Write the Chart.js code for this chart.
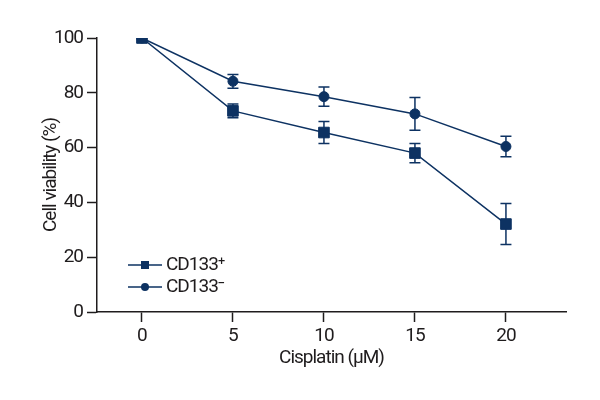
<!DOCTYPE html>
<html>
<head>
<meta charset="utf-8">
<script src="https://cdn.jsdelivr.net/npm/chart.js@4"></script>
<style>
  html, body { margin: 0; padding: 0; background: #fff; }
  #wrap { width: 600px; height: 400px; }
</style>
</head>
<body>
<div id="wrap"><canvas id="viability-chart"></canvas></div>
<script>
const doses = [0, 5, 10, 15, 20];
const cd133Pos = [100, 73.4, 65.5, 58, 32.1];
const cd133PosErr = [0, 2.5, 4, 3.5, 7.5];
const cd133Neg = [100, 84.2, 78.6, 72.3, 60.4];
const cd133NegErr = [0, 2.5, 3.5, 6, 3.7];
const xTicks = [0, 5, 10, 15, 20];
const yTicks = [0, 20, 40, 60, 80, 100];
const seriesLabels = ['CD133\u207A', 'CD133\u207B'];

const navy = '#0d3262';
const axisColor = '#1f1c1d';
const fontFamily = '"Liberation Sans Narrow", Roboto, sans-serif';
const fontSize = 19;
const squeeze = '-1px';

const toPoints = (vals) => doses.map((d, i) => ({ x: d, y: vals[i] }));

// the reference uses a condensed face, so squeeze the letters a little
const tightText = {
  id: 'tightText',
  beforeDraw(chart) { chart.ctx.letterSpacing = squeeze; },
  afterDraw(chart) { chart.ctx.letterSpacing = '0px'; }
};

// error bars, drawn behind the markers
const errorBars = {
  id: 'errorBars',
  beforeDatasetsDraw(chart) {
    const { ctx, scales: { x, y } } = chart;
    const errs = [cd133PosErr, cd133NegErr];
    ctx.save();
    ctx.strokeStyle = navy;
    ctx.lineWidth = 1.5;
    chart.data.datasets.forEach((ds, di) => {
      ds.data.forEach((p, i) => {
        const e = errs[di][i];
        if (!e) return;
        const px = x.getPixelForValue(p.x);
        const top = y.getPixelForValue(p.y + e);
        const bot = y.getPixelForValue(p.y - e);
        ctx.beginPath();
        ctx.moveTo(px, top); ctx.lineTo(px, bot);
        ctx.moveTo(px - 5.5, top); ctx.lineTo(px + 5.5, top);
        ctx.moveTo(px - 5.5, bot); ctx.lineTo(px + 5.5, bot);
        ctx.stroke();
      });
    });
    ctx.restore();
  }
};

// small legend in the lower left of the plot
const lowerLegend = {
  id: 'lowerLegend',
  afterDraw(chart) {
    const { ctx, chartArea } = chart;
    const x0 = chartArea.left + 31;
    const rows = [chartArea.bottom - 47, chartArea.bottom - 25];
    ctx.save();
    ctx.letterSpacing = squeeze;
    rows.forEach((yy, i) => {
      ctx.strokeStyle = navy;
      ctx.fillStyle = navy;
      ctx.lineWidth = 1.5;
      ctx.beginPath();
      ctx.moveTo(x0, yy); ctx.lineTo(x0 + 34, yy);
      ctx.stroke();
      ctx.beginPath();
      if (i === 0) {
        ctx.rect(x0 + 17 - 4, yy - 4, 8, 8);
      } else {
        ctx.arc(x0 + 17, yy, 4, 0, Math.PI * 2);
      }
      ctx.fill();
      ctx.fillStyle = axisColor;
      ctx.font = fontSize + 'px ' + fontFamily;
      ctx.textBaseline = 'middle';
      ctx.textAlign = 'left';
      ctx.fillText(seriesLabels[i], x0 + 38, yy);
    });
    ctx.restore();
  }
};

const axisFont = { family: fontFamily, size: fontSize };

const chart = new Chart(document.getElementById('viability-chart'), {
  type: 'line',
  data: {
    datasets: [
      {
        label: seriesLabels[0],
        data: toPoints(cd133Pos),
        borderColor: navy,
        backgroundColor: navy,
        borderWidth: 1.5,
        pointStyle: 'rect',
        pointRadius: 7.5,
        pointBorderWidth: 1,
        tension: 0
      },
      {
        label: seriesLabels[1],
        data: toPoints(cd133Neg),
        borderColor: navy,
        backgroundColor: navy,
        borderWidth: 1.5,
        pointStyle: 'circle',
        pointRadius: 5,
        pointBorderWidth: 1,
        tension: 0
      }
    ]
  },
  options: {
    responsive: true,
    maintainAspectRatio: false,
    animation: false,
    layout: { padding: { top: 38, right: 34, left: 0, bottom: 0 } },
    plugins: {
      legend: { display: false },
      tooltip: { enabled: false }
    },
    scales: {
      x: {
        type: 'linear',
        min: -2.47,
        max: 23.3,
        afterBuildTicks: (scale) => { scale.ticks = xTicks.map(v => ({ value: v })); },
        afterFit: (scale) => { scale.height = 88; },
        border: { display: true, color: axisColor, width: 1.5 },
        grid: {
          drawOnChartArea: false,
          drawTicks: true,
          tickLength: 10,
          tickColor: axisColor,
          tickWidth: 1.5
        },
        ticks: {
          color: axisColor,
          padding: 3,
          maxRotation: 0,
          font: axisFont
        },
        title: {
          display: true,
          text: 'Cisplatin (\u00B5M)',
          color: axisColor,
          padding: { top: 0, bottom: 30 },
          font: axisFont
        }
      },
      y: {
        min: 0,
        max: 100,
        afterBuildTicks: (scale) => { scale.ticks = yTicks.map(v => ({ value: v })); },
        afterFit: (scale) => { scale.width = 97; },
        border: { display: true, color: axisColor, width: 1.5 },
        grid: {
          drawOnChartArea: false,
          drawTicks: true,
          tickLength: 10,
          tickColor: axisColor,
          tickWidth: 1.5
        },
        ticks: {
          color: axisColor,
          padding: 4,
          font: axisFont
        },
        title: {
          display: true,
          text: 'Cell viability (%)',
          color: axisColor,
          padding: { top: 40, bottom: 0 },
          font: axisFont
        }
      }
    }
  },
  plugins: [tightText, errorBars, lowerLegend]
});
</script>
</body>
</html>
